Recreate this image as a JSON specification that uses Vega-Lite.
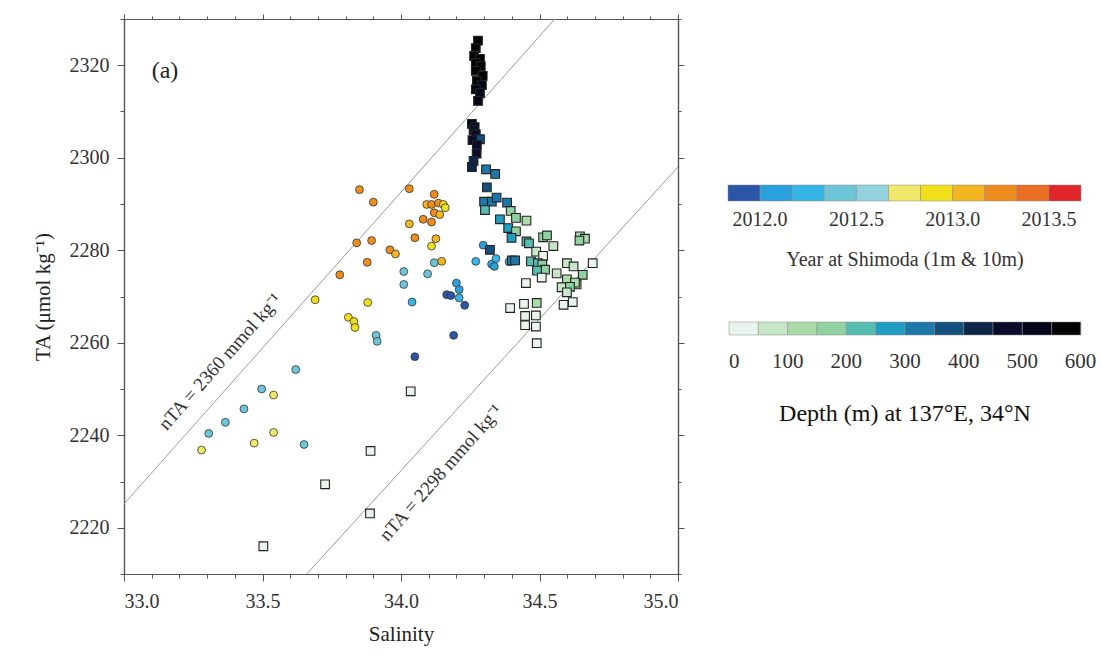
{
  "$schema": "https://vega.github.io/schema/vega-lite/v6.json",
  "width": 554,
  "height": 555,
  "autosize": {"type": "none"},
  "padding": {"left": 124, "top": 19, "right": 424, "bottom": 84},
  "background": "white",
  "config": {
    "view": {"stroke": null},
    "font": "Liberation Serif",
    "axis": {
      "labelFont": "Liberation Serif", "labelFontSize": 20, "labelColor": "#333",
      "titleFont": "Liberation Serif", "titleFontSize": 21, "titleFontWeight": "normal", "titleColor": "#222",
      "domainColor": "#555", "tickColor": "#555", "grid": false, "domainWidth": 1.2, "tickWidth": 1
    }
  },
  "datasets": {
    "lines": [
      {"salinity": 33.0, "ta": 2225.14, "nTA": "2360"},
      {"salinity": 35.0, "ta": 2360.0, "nTA": "2360"},
      {"salinity": 33.0, "ta": 2166.69, "nTA": "2298"},
      {"salinity": 35.0, "ta": 2298.0, "nTA": "2298"}
    ],
    "lineLabels": [
      {"salinity": 33.347, "ta": 2255.9, "label": "nTA = 2360 mmol kg⁻¹"},
      {"salinity": 34.144, "ta": 2231.9, "label": "nTA = 2298 mmol kg⁻¹"}
    ],
    "panel": [
      {"salinity": 33.148, "ta": 2318.8, "label": "(a)"}
    ],
    "shimoda": [
      {"salinity": 33.62, "ta": 2254.2, "year": 2012.45},
      {"salinity": 33.497, "ta": 2250.0, "year": 2012.45},
      {"salinity": 33.54, "ta": 2248.7, "year": 2012.75},
      {"salinity": 33.433, "ta": 2245.7, "year": 2012.45},
      {"salinity": 33.366, "ta": 2242.8, "year": 2012.45},
      {"salinity": 33.306, "ta": 2240.4, "year": 2012.45},
      {"salinity": 33.54, "ta": 2240.6, "year": 2012.75},
      {"salinity": 33.47, "ta": 2238.3, "year": 2012.75},
      {"salinity": 33.28, "ta": 2236.8, "year": 2012.75},
      {"salinity": 33.65, "ta": 2238.0, "year": 2012.45},
      {"salinity": 34.05, "ta": 2257.0, "year": 2011.9},
      {"salinity": 33.91, "ta": 2261.6, "year": 2012.45},
      {"salinity": 33.914, "ta": 2260.3, "year": 2012.45},
      {"salinity": 33.85, "ta": 2293.1, "year": 2013.3},
      {"salinity": 33.90, "ta": 2290.4, "year": 2013.3},
      {"salinity": 33.84, "ta": 2281.6, "year": 2013.3},
      {"salinity": 33.894, "ta": 2282.1, "year": 2013.3},
      {"salinity": 33.96, "ta": 2280.1, "year": 2013.3},
      {"salinity": 33.98, "ta": 2279.2, "year": 2013.1},
      {"salinity": 33.878, "ta": 2277.4, "year": 2013.3},
      {"salinity": 33.779, "ta": 2274.7, "year": 2013.3},
      {"salinity": 33.69, "ta": 2269.3, "year": 2012.9},
      {"salinity": 33.88, "ta": 2268.7, "year": 2012.9},
      {"salinity": 33.81, "ta": 2265.5, "year": 2012.9},
      {"salinity": 33.83, "ta": 2264.6, "year": 2012.9},
      {"salinity": 33.834, "ta": 2263.3, "year": 2012.9},
      {"salinity": 34.03, "ta": 2293.3, "year": 2013.3},
      {"salinity": 34.12, "ta": 2292.1, "year": 2013.3},
      {"salinity": 34.093, "ta": 2289.9, "year": 2013.1},
      {"salinity": 34.11, "ta": 2289.9, "year": 2013.25},
      {"salinity": 34.135, "ta": 2290.2, "year": 2013.25},
      {"salinity": 34.153, "ta": 2289.9, "year": 2012.9},
      {"salinity": 34.16, "ta": 2289.2, "year": 2012.9},
      {"salinity": 34.12, "ta": 2288.1, "year": 2013.25},
      {"salinity": 34.14, "ta": 2287.7, "year": 2013.1},
      {"salinity": 34.08, "ta": 2286.7, "year": 2013.3},
      {"salinity": 34.11, "ta": 2286.1, "year": 2013.3},
      {"salinity": 34.03, "ta": 2285.7, "year": 2013.1},
      {"salinity": 34.05, "ta": 2282.7, "year": 2013.3},
      {"salinity": 34.126, "ta": 2282.5, "year": 2013.1},
      {"salinity": 34.11, "ta": 2280.9, "year": 2012.9},
      {"salinity": 34.12, "ta": 2277.3, "year": 2012.45},
      {"salinity": 34.147, "ta": 2277.6, "year": 2013.1},
      {"salinity": 34.01, "ta": 2275.4, "year": 2012.45},
      {"salinity": 34.096, "ta": 2274.9, "year": 2012.45},
      {"salinity": 34.01, "ta": 2272.6, "year": 2012.45},
      {"salinity": 34.04, "ta": 2268.8, "year": 2012.25},
      {"salinity": 34.165, "ta": 2270.4, "year": 2011.9},
      {"salinity": 34.18, "ta": 2270.2, "year": 2011.9},
      {"salinity": 34.20, "ta": 2272.9, "year": 2012.1},
      {"salinity": 34.21, "ta": 2271.5, "year": 2012.1},
      {"salinity": 34.21, "ta": 2269.7, "year": 2012.25},
      {"salinity": 34.23, "ta": 2268.1, "year": 2011.9},
      {"salinity": 34.19, "ta": 2261.6, "year": 2011.9},
      {"salinity": 34.27, "ta": 2277.6, "year": 2012.25},
      {"salinity": 34.297, "ta": 2281.1, "year": 2012.1},
      {"salinity": 34.327, "ta": 2277.0, "year": 2012.1},
      {"salinity": 34.343, "ta": 2278.2, "year": 2012.25},
      {"salinity": 34.337, "ta": 2276.5, "year": 2012.1},
      {"salinity": 34.39, "ta": 2277.5, "year": 2012.25}
    ],
    "offshore": [
      {"salinity": 34.278, "ta": 2325.3, "depth": 590},
      {"salinity": 34.270, "ta": 2323.7, "depth": 585},
      {"salinity": 34.264, "ta": 2322.0, "depth": 580},
      {"salinity": 34.285, "ta": 2321.4, "depth": 575},
      {"salinity": 34.270, "ta": 2320.5, "depth": 570},
      {"salinity": 34.288, "ta": 2319.8, "depth": 565},
      {"salinity": 34.270, "ta": 2318.8, "depth": 560},
      {"salinity": 34.295, "ta": 2317.7, "depth": 555},
      {"salinity": 34.274, "ta": 2316.6, "depth": 550},
      {"salinity": 34.292, "ta": 2315.7, "depth": 545},
      {"salinity": 34.270, "ta": 2314.8, "depth": 540},
      {"salinity": 34.285, "ta": 2314.0, "depth": 530},
      {"salinity": 34.278, "ta": 2312.3, "depth": 520},
      {"salinity": 34.256, "ta": 2307.3, "depth": 510},
      {"salinity": 34.266, "ta": 2306.6, "depth": 500},
      {"salinity": 34.262, "ta": 2306.0, "depth": 495},
      {"salinity": 34.270, "ta": 2305.1, "depth": 490},
      {"salinity": 34.285, "ta": 2304.0, "depth": 350},
      {"salinity": 34.258, "ta": 2303.8, "depth": 480},
      {"salinity": 34.274, "ta": 2302.8, "depth": 460},
      {"salinity": 34.273, "ta": 2300.9, "depth": 450},
      {"salinity": 34.262, "ta": 2299.3, "depth": 440},
      {"salinity": 34.256, "ta": 2298.0, "depth": 430},
      {"salinity": 34.307, "ta": 2297.5, "depth": 330},
      {"salinity": 34.340, "ta": 2296.5, "depth": 320},
      {"salinity": 34.310, "ta": 2293.6, "depth": 370},
      {"salinity": 34.300, "ta": 2290.5, "depth": 340},
      {"salinity": 34.328, "ta": 2290.5, "depth": 300},
      {"salinity": 34.345, "ta": 2291.4, "depth": 310},
      {"salinity": 34.383, "ta": 2290.3, "depth": 300},
      {"salinity": 34.303, "ta": 2288.7, "depth": 240},
      {"salinity": 34.396, "ta": 2288.5, "depth": 180},
      {"salinity": 34.357, "ta": 2286.7, "depth": 290},
      {"salinity": 34.415, "ta": 2287.0, "depth": 160},
      {"salinity": 34.453, "ta": 2286.4, "depth": 130},
      {"salinity": 34.387, "ta": 2284.8, "depth": 270},
      {"salinity": 34.415, "ta": 2284.1, "depth": 170},
      {"salinity": 34.399, "ta": 2282.7, "depth": 260},
      {"salinity": 34.453, "ta": 2281.9, "depth": 230},
      {"salinity": 34.462, "ta": 2281.5, "depth": 240},
      {"salinity": 34.513, "ta": 2282.8, "depth": 150},
      {"salinity": 34.527, "ta": 2283.2, "depth": 160},
      {"salinity": 34.550, "ta": 2280.9, "depth": 90},
      {"salinity": 34.646, "ta": 2283.0, "depth": 140},
      {"salinity": 34.664, "ta": 2282.5, "depth": 120},
      {"salinity": 34.644, "ta": 2282.1, "depth": 160},
      {"salinity": 34.488, "ta": 2279.7, "depth": 60},
      {"salinity": 34.513, "ta": 2278.8, "depth": 30},
      {"salinity": 34.469, "ta": 2277.6, "depth": 220},
      {"salinity": 34.494, "ta": 2277.2, "depth": 230},
      {"salinity": 34.510, "ta": 2276.9, "depth": 170},
      {"salinity": 34.520, "ta": 2275.8, "depth": 150},
      {"salinity": 34.491, "ta": 2275.6, "depth": 230},
      {"salinity": 34.599, "ta": 2277.2, "depth": 80},
      {"salinity": 34.623, "ta": 2276.5, "depth": 90},
      {"salinity": 34.692, "ta": 2277.2, "depth": 20},
      {"salinity": 34.562, "ta": 2275.0, "depth": 90},
      {"salinity": 34.508, "ta": 2274.1, "depth": 40},
      {"salinity": 34.656, "ta": 2274.7, "depth": 160},
      {"salinity": 34.599, "ta": 2273.7, "depth": 110},
      {"salinity": 34.634, "ta": 2272.6, "depth": 130},
      {"salinity": 34.628, "ta": 2273.0, "depth": 120},
      {"salinity": 34.580, "ta": 2272.0, "depth": 90},
      {"salinity": 34.610, "ta": 2272.1, "depth": 150},
      {"salinity": 34.599, "ta": 2270.9, "depth": 50},
      {"salinity": 34.451, "ta": 2272.9, "depth": 40},
      {"salinity": 34.620, "ta": 2268.8, "depth": 20},
      {"salinity": 34.587, "ta": 2268.2, "depth": 20},
      {"salinity": 34.394, "ta": 2267.5, "depth": 40},
      {"salinity": 34.444, "ta": 2268.4, "depth": 40},
      {"salinity": 34.490, "ta": 2268.6, "depth": 110},
      {"salinity": 34.448, "ta": 2265.8, "depth": 20},
      {"salinity": 34.487, "ta": 2265.9, "depth": 40},
      {"salinity": 34.448, "ta": 2263.8, "depth": 15},
      {"salinity": 34.487, "ta": 2263.5, "depth": 40},
      {"salinity": 34.490, "ta": 2259.9, "depth": 15},
      {"salinity": 34.400, "ta": 2277.8, "depth": 320},
      {"salinity": 34.412, "ta": 2277.8, "depth": 310},
      {"salinity": 34.321, "ta": 2280.1, "depth": 360},
      {"salinity": 34.035, "ta": 2249.5, "depth": 15},
      {"salinity": 33.890, "ta": 2236.6, "depth": 10},
      {"salinity": 33.726, "ta": 2229.4, "depth": 20},
      {"salinity": 33.888, "ta": 2223.1, "depth": 15},
      {"salinity": 33.503, "ta": 2216.0, "depth": 20}
    ]
  },
  "layer": [
    {
      "data": {"name": "lines"},
      "mark": {"type": "line", "color": "#9a9a9a", "strokeWidth": 1, "clip": true},
      "encoding": {
        "x": {"field": "salinity", "type": "quantitative",
              "scale": {"domain": [33, 35], "nice": false, "zero": false},
              "axis": {"orient": "bottom", "values": [33, 33.5, 34, 34.5, 35], "format": ".1f", "tickSize": 7, "labelPadding": 10, "title": "Salinity", "titlePadding": 12}},
        "y": {"field": "ta", "type": "quantitative",
              "scale": {"domain": [2210, 2330], "nice": false, "zero": false},
              "axis": {"orient": "left", "values": [2220, 2240, 2260, 2280, 2300, 2320], "format": "d", "tickSize": 7, "labelPadding": 8, "title": "TA (μmol kg⁻¹)", "titlePadding": 16}},
        "detail": {"field": "nTA", "type": "nominal"}
      }
    },
    {
      "data": {"name": "lineLabels"},
      "mark": {"type": "text", "angle": 311.5, "font": "Liberation Serif", "fontSize": 19, "color": "#333", "align": "center", "baseline": "middle"},
      "encoding": {
        "x": {"field": "salinity", "type": "quantitative",
              "axis": {"orient": "top", "values": [33, 33.5, 34, 34.5, 35], "labels": false, "tickSize": 5, "title": null}},
        "y": {"field": "ta", "type": "quantitative",
              "axis": {"orient": "right", "values": [2220, 2240, 2260, 2280, 2300, 2320], "labels": false, "tickSize": 6, "title": null}},
        "text": {"field": "label", "type": "nominal"}
      }
    },
    {
      "data": {"name": "panel"},
      "mark": {"type": "text", "font": "Liberation Serif", "fontSize": 24, "color": "#222", "align": "center", "baseline": "middle"},
      "encoding": {
        "x": {"field": "salinity", "type": "quantitative",
              "axis": {"orient": "bottom", "values": [33.1, 33.2, 33.3, 33.4, 33.6, 33.7, 33.8, 33.9, 34.1, 34.2, 34.3, 34.4, 34.6, 34.7, 34.8, 34.9], "labels": false, "tickSize": 4, "title": null}},
        "y": {"field": "ta", "type": "quantitative",
              "axis": {"orient": "left", "values": [2210, 2230, 2250, 2270, 2290, 2310, 2330], "labels": false, "tickSize": 4, "title": null}},
        "text": {"field": "label", "type": "nominal"}
      }
    },
    {
      "data": {"name": "shimoda"},
      "mark": {"type": "point", "shape": "circle", "filled": true, "size": 62, "stroke": "#333", "strokeWidth": 0.8, "opacity": 1},
      "encoding": {
        "x": {"field": "salinity", "type": "quantitative",
              "axis": {"orient": "top", "values": [33.1, 33.2, 33.3, 33.4, 33.6, 33.7, 33.8, 33.9, 34.1, 34.2, 34.3, 34.4, 34.6, 34.7, 34.8, 34.9], "labels": false, "tickSize": 3, "title": null}},
        "y": {"field": "ta", "type": "quantitative",
              "axis": {"orient": "right", "values": [2210, 2230, 2250, 2270, 2290, 2310, 2330], "labels": false, "tickSize": 3, "title": null}},
        "fill": {"field": "year", "type": "quantitative",
                 "scale": {"type": "quantize", "domain": [2011.8333, 2013.6667],
                           "range": ["#2b56a7", "#2aa0dc", "#36b6e6", "#6fc5d8", "#92d2de", "#efe86a", "#f2df1c", "#f3b520", "#ef8c1e", "#ea6f23", "#e3262b"]},
                 "legend": {"type": "gradient", "orient": "none", "direction": "horizontal", "legendX": 604, "legendY": 166,
                            "gradientLength": 353, "gradientThickness": 16, "gradientStrokeColor": "#888", "gradientStrokeWidth": 0.5,
                            "values": [2011.9, 2012.0001, 2012.1668, 2012.3334, 2012.5001, 2012.6668, 2012.8334, 2013.0001, 2013.1668, 2013.3334, 2013.5001],
                            "labelExpr": "abs(datum.value * 2 - round(datum.value * 2)) < 0.01 ? format(datum.value, '.1f') : ''",
                            "labelOverlap": false,
                            "title": "Year at Shimoda (1m & 10m)", "titleOrient": "bottom", "titleAnchor": "middle", "titleLimit": 600,
                            "titleFont": "Liberation Serif", "titleFontSize": 20, "titleFontWeight": "normal", "titleColor": "#333", "titlePadding": 20,
                            "labelFont": "Liberation Serif", "labelFontSize": 20, "labelColor": "#333", "labelOffset": 9, "labelAlign": "center", "labelLimit": 200, "padding": 0}}
      }
    },
    {
      "data": {"name": "offshore"},
      "mark": {"type": "point", "shape": "square", "filled": true, "size": 75, "stroke": "#222", "strokeWidth": 1.1, "opacity": 1},
      "encoding": {
        "x": {"field": "salinity", "type": "quantitative", "axis": null},
        "y": {"field": "ta", "type": "quantitative", "axis": null},
        "fill": {"field": "depth", "type": "quantitative",
                 "scale": {"type": "quantize", "domain": [0, 600],
                           "range": ["#e9f5ec", "#c8e7c8", "#aadba9", "#8fd1a0", "#57bdb1", "#1f9dc2", "#1b78a8", "#14507e", "#0f2547", "#090b28", "#05051a", "#030303"]},
                 "legend": {"type": "gradient", "orient": "none", "direction": "horizontal", "legendX": 605, "legendY": 303,
                            "gradientLength": 352, "gradientThickness": 13, "gradientStrokeColor": "#888", "gradientStrokeWidth": 0.5,
                            "values": [1, 50.0001, 100.0001, 150.0001, 200.0001, 250.0001, 300.0001, 350.0001, 400.0001, 450.0001, 500.0001, 550.0001, 599],
                            "labelExpr": "abs(datum.value / 100 - round(datum.value / 100)) < 0.02 ? format(round(datum.value / 100) * 100, 'd') : ''",
                            "labelOverlap": false,
                            "title": "Depth (m) at 137°E, 34°N", "titleOrient": "bottom", "titleAnchor": "middle", "titleLimit": 600,
                            "titleFont": "Liberation Serif", "titleFontSize": 24, "titleFontWeight": "normal", "titleColor": "#111", "titlePadding": 30,
                            "labelFont": "Liberation Serif", "labelFontSize": 21, "labelColor": "#333", "labelOffset": 16, "labelAlign": "center", "labelLimit": 200, "padding": 0}}
      }
    }
  ],
  "resolve": {
    "axis": {"x": "independent", "y": "independent"},
    "scale": {"fill": "independent"}
  }
}
